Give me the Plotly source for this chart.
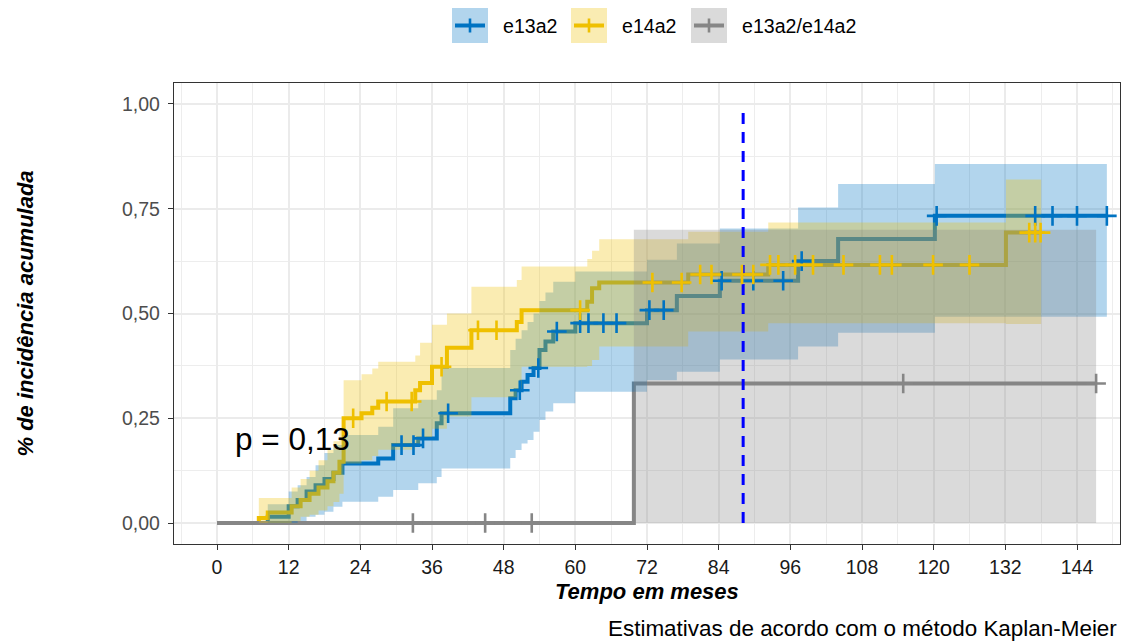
import numpy as np
import plotly.graph_objects as go

# ---------------- data ----------------
groups = ["e13a2", "e14a2", "e13a2/e14a2"]

# e13a2
blue_t = [0, 8.5, 12.0, 13.5, 15.0, 16.5, 18.0, 19.5, 21.0, 27.0, 29.5, 33.7, 36.8, 37.6,
          49.1, 50.0, 51.0, 52.0, 53.0, 54.0, 55.0, 56.3, 60.0, 72.0, 77.0, 84.2, 97.3, 104.0, 120.2]
blue_est = [0, 0.015, 0.04, 0.055, 0.075, 0.09, 0.105, 0.12, 0.142, 0.154, 0.186, 0.202, 0.238, 0.262,
            0.298, 0.317, 0.337, 0.353, 0.37, 0.413, 0.433, 0.457, 0.477, 0.508, 0.542, 0.578, 0.625, 0.678, 0.733]
blue_upper = [0, 0.045, 0.075, 0.09, 0.11, 0.138, 0.167, 0.186, 0.21, 0.23, 0.274, 0.294, 0.317, 0.37,
              0.413, 0.44, 0.46, 0.48, 0.50, 0.53, 0.55, 0.576, 0.60, 0.628, 0.667, 0.703, 0.753, 0.809, 0.857]
blue_lower = [0, 0, 0, 0.005, 0.015, 0.02, 0.027, 0.039, 0.051, 0.063, 0.079, 0.095, 0.11, 0.13,
              0.155, 0.174, 0.19, 0.198, 0.218, 0.246, 0.266, 0.286, 0.313, 0.341, 0.361, 0.39, 0.421, 0.454, 0.492]
blue_end = 149.0
blue_cens = [30.9, 32.9, 34.5, 38.7, 50.7, 53.8, 56.9, 60.8, 62.2, 64.7, 66.9, 72.4, 74.8,
             84.5, 89.8, 94.8, 97.9, 120.5, 137.0, 139.9, 144.0, 149.0]

# e14a2
yel_t = [0, 7.0, 8.5, 12.5, 14.0, 15.5, 17.0, 18.5, 19.5, 20.5, 21.2, 24.2, 26.0, 27.0, 33.2, 34.0,
         36.0, 38.5, 42.6, 50.2, 51.0, 62.0, 62.8, 64.0, 78.9, 92.3, 132.1]
yel_est = [0, 0.012, 0.025, 0.04, 0.055, 0.07, 0.085, 0.10, 0.12, 0.146, 0.25, 0.262, 0.275, 0.29, 0.317, 0.334,
           0.373, 0.418, 0.46, 0.48, 0.508, 0.528, 0.56, 0.574, 0.593, 0.616, 0.693]
yel_upper = [0, 0.06, 0.06, 0.085, 0.105, 0.125, 0.15, 0.175, 0.195, 0.225, 0.341, 0.355, 0.369, 0.385, 0.40, 0.43,
             0.473, 0.50, 0.564, 0.58, 0.612, 0.63, 0.65, 0.677, 0.695, 0.717, 0.82]
yel_lower = [0, 0, 0, 0.005, 0.015, 0.02, 0.03, 0.04, 0.05, 0.07, 0.142, 0.15, 0.16, 0.175, 0.19, 0.205,
             0.225, 0.254, 0.30, 0.32, 0.373, 0.375, 0.389, 0.421, 0.457, 0.477, 0.475]
yel_end = 138.0
yel_cens = [22.8, 28.4, 32.6, 37.6, 43.7, 46.8, 60.8, 72.9, 77.8, 80.9, 82.8, 87.9, 89.8, 92.6, 94.0,
            96.8, 99.8, 104.9, 111.0, 113.0, 119.9, 126.0, 136.0, 137.0, 137.9]

# e13a2/e14a2
gray_t = [0, 69.8]
gray_est = [0, 0.333]
gray_upper = [0, 0.70]
gray_lower = [0, 0]
gray_end = 147.2
gray_cens = [32.8, 44.9, 52.7, 114.9, 147.2]

ref_month = 88.1          # dashed reference line
ref_top = 0.984
p_text = "p = 0,13"
p_pos = (12.6, 0.20)

x_ticks = list(range(0, 145, 12))
y_ticks = [0, 0.25, 0.5, 0.75, 1.0]
y_ticktext = ["0,00", "0,25", "0,50", "0,75", "1,00"]

colors = ["#0073C2", "#EFC000", "#868686"]
fills = ["rgba(0,115,194,0.3)", "rgba(239,192,0,0.3)", "rgba(134,134,134,0.3)"]

series = [
    dict(t=blue_t, est=blue_est, lo=blue_lower, hi=blue_upper, end=blue_end, cens=blue_cens),
    dict(t=yel_t, est=yel_est, lo=yel_lower, hi=yel_upper, end=yel_end, cens=yel_cens),
    dict(t=gray_t, est=gray_est, lo=gray_lower, hi=gray_upper, end=gray_end, cens=gray_cens),
]


def step_at(times, vals, q):
    idx = np.searchsorted(np.array(times), np.array(q), side="right") - 1
    return np.array(vals)[idx]


fig = go.Figure()

# step lines
for s, c in zip(series, colors):
    x = list(s["t"]) + [s["end"]]
    y = list(s["est"]) + [s["est"][-1]]
    fig.add_trace(go.Scatter(x=x, y=y, mode="lines", line=dict(color=c, width=4, shape="hv"),
                             showlegend=False, hoverinfo="skip"))

# confidence ribbons (drawn over the lines, as in the reference)
for s, f in zip(series, fills):
    x = list(s["t"]) + [s["end"]]
    lo = list(s["lo"]) + [s["lo"][-1]]
    hi = list(s["hi"]) + [s["hi"][-1]]
    fig.add_trace(go.Scatter(x=x, y=lo, mode="lines", line=dict(width=0, shape="hv"),
                             showlegend=False, hoverinfo="skip"))
    fig.add_trace(go.Scatter(x=x, y=hi, mode="lines", line=dict(width=0, shape="hv"),
                             fill="tonexty", fillcolor=f, showlegend=False, hoverinfo="skip"))

# dashed reference line
fig.add_trace(go.Scatter(x=[ref_month, ref_month], y=[0, ref_top], mode="lines",
                         line=dict(color="#0000FF", width=3, dash="11px,8px"),
                         showlegend=False, hoverinfo="skip"))

# censoring marks
for s, c in zip(series, colors):
    yc = step_at(s["t"], s["est"], s["cens"])
    fig.add_trace(go.Scatter(x=s["cens"], y=yc, mode="markers",
                             marker=dict(symbol="cross-thin", size=14,
                                         line=dict(color=c, width=2.6)),
                             showlegend=False, hoverinfo="skip"))

# ---------------- layout ----------------
W, H = 1126, 641
L, R, T, B = 174, 1120, 83, 544


def px(xp):
    return (xp - L) / (R - L)


def py(yp):
    return (B - yp) / (B - T)


font = "Liberation Sans, Arial, Helvetica, sans-serif"

shapes = []
annotations = []

# custom legend
leg_boxes = [452, 571, 691]
leg_text_x = [501, 620, 740]
for g, c, f, bx, tx in zip(groups, colors, fills, leg_boxes, leg_text_x):
    shapes.append(dict(type="rect", xref="paper", yref="paper", x0=px(bx), x1=px(bx + 36),
                       y0=py(43), y1=py(8), fillcolor=f, line=dict(width=0), layer="above"))
    shapes.append(dict(type="line", xref="paper", yref="paper", x0=px(bx + 3), x1=px(bx + 33),
                       y0=py(25.5), y1=py(25.5), line=dict(color=c, width=4), layer="above"))
    shapes.append(dict(type="line", xref="paper", yref="paper", x0=px(bx + 18), x1=px(bx + 18),
                       y0=py(18.5), y1=py(32.5), line=dict(color=c, width=2.6), layer="above"))
    annotations.append(dict(text=g, xref="paper", yref="paper", x=px(tx), y=py(25.5),
                            xanchor="left", yanchor="middle", showarrow=False,
                            font=dict(family=font, size=19.6, color="#000000")))

# p-value
annotations.append(dict(text=p_text, x=p_pos[0], y=p_pos[1], xref="x", yref="y", showarrow=False,
                        xanchor="center", yanchor="middle",
                        font=dict(family=font, size=31.5, color="#000000")))
# axis titles
annotations.append(dict(text="<b><i>Tempo em meses</i></b>", xref="paper", yref="paper",
                        x=0.5, y=py(591), xanchor="center", yanchor="middle", showarrow=False,
                        font=dict(family=font, size=22, color="#000000")))
annotations.append(dict(text="<b><i>% de incidência acumulada</i></b>", xref="paper", yref="paper",
                        x=px(25), y=0.5, xanchor="center", yanchor="middle", showarrow=False,
                        textangle=-90, font=dict(family=font, size=22, color="#000000")))
# caption
annotations.append(dict(text="Estimativas de acordo com o método Kaplan-Meier", xref="paper",
                        yref="paper", x=px(1119), y=py(628), xanchor="right", yanchor="middle",
                        showarrow=False, font=dict(family=font, size=22.45, color="#000000")))

fig.update_layout(
    width=W, height=H,
    margin=dict(l=L, r=W - R, t=T, b=H - B),
    paper_bgcolor="white", plot_bgcolor="white",
    showlegend=False,
    shapes=shapes, annotations=annotations,
    font=dict(family=font),
)
fig.update_xaxes(
    range=[-7.2, 151.2], tickmode="array", tickvals=x_ticks,
    ticks="outside", ticklen=5, tickwidth=1.2, tickcolor="#333333",
    tickfont=dict(family=font, size=19.5, color="#1a1a1a"),
    showline=True, mirror=True, linecolor="#333333", linewidth=1.4,
    showgrid=True, gridcolor="#EBEBEB", gridwidth=2, zeroline=False,
    minor=dict(tickmode="linear", tick0=0, dtick=6, showgrid=True, gridcolor="#EDEDED",
               gridwidth=1.3, ticks=""),
)
fig.update_yaxes(
    range=[-0.05, 1.05], tickmode="array", tickvals=y_ticks, ticktext=y_ticktext,
    ticks="outside", ticklen=5, tickwidth=1.2, tickcolor="#333333",
    tickfont=dict(family=font, size=19.5, color="#4D4D4D"), ticklabelstandoff=4,
    showline=True, mirror=True, linecolor="#333333", linewidth=1.4,
    showgrid=True, gridcolor="#EBEBEB", gridwidth=2, zeroline=False,
    minor=dict(tickmode="linear", tick0=0, dtick=0.125, showgrid=True, gridcolor="#EDEDED",
               gridwidth=1.3, ticks=""),
)

fig.write_html("out.html")
